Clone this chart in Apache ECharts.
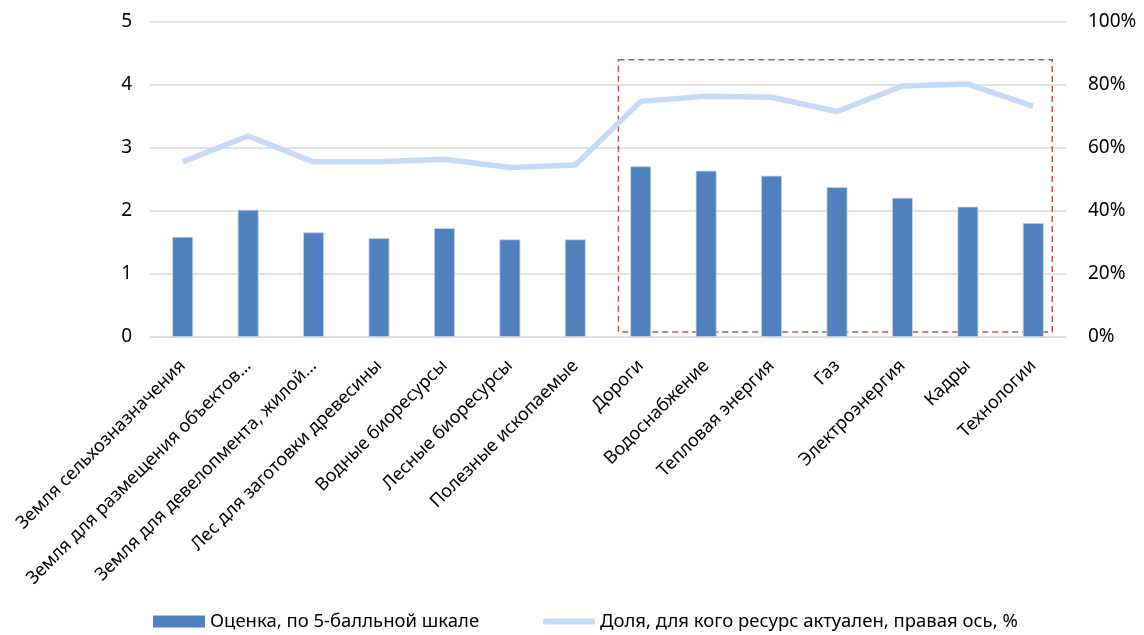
<!DOCTYPE html>
<html><head><meta charset="utf-8">
<script src="https://cdn.jsdelivr.net/npm/echarts@6/dist/echarts.min.js"></script>
<style>html,body{margin:0;padding:0;background:#fff}#c{width:1144px;height:635px}</style>
</head><body><div id="c"></div>
<script>
const categories = ["Земля сельхозназначения","Земля для размещения объектов…","Земля для девелопмента, жилой…","Лес для заготовки древесины","Водные биоресурсы","Лесные биоресурсы","Полезные ископаемые","Дороги","Водоснабжение","Тепловая энергия","Газ","Электроэнергия","Кадры","Технологии"];
const scores = [1.59,2.02,1.66,1.57,1.73,1.55,1.55,2.71,2.64,2.56,2.38,2.21,2.07,1.81];
const shares = [55.6,63.8,55.6,55.6,56.4,53.8,54.6,74.8,76.4,76.1,71.6,79.7,80.3,73.2];
const highlightBox = {xFrom:6.66, xTo:13.29, yFrom:0.08, yTo:4.40};
const S1 = 'Оценка, по 5-балльной шкале';
const S2 = 'Доля, для кого ресурс актуален, правая ось, %';
const FONT = "'Noto Sans', sans-serif";
const chart = echarts.init(document.getElementById('c'));
chart.setOption({
  animation:false,
  textStyle:{fontFamily:FONT},
  grid:{left:150,right:78,top:22,bottom:298},
  legend:[
    {top:607,left:148,itemWidth:52,itemHeight:12,itemGap:8,
      itemStyle:{borderWidth:0},
      textStyle:{fontSize:18.5,color:'#000',fontFamily:FONT},
      data:[{name:S1,icon:'rect'}]},
    {top:607,left:538,itemWidth:52,itemHeight:6,itemGap:8,
      textStyle:{fontSize:18.5,color:'#000',fontFamily:FONT},
      data:[{name:S2,icon:'roundRect'}]}
  ],
  xAxis:[{type:'category',data:categories,
    axisLine:{show:true,lineStyle:{color:'#d9d9d9'}},axisTick:{show:false},
    axisLabel:{rotate:45,interval:0,fontSize:18,color:'#000',margin:26,fontFamily:FONT}},
    {type:'value',min:-0.5,max:13.5,show:false}],
  yAxis:[{type:'value',min:0,max:5,interval:1,
    axisLabel:{fontSize:19,color:'#000',margin:18,fontFamily:FONT},axisTick:{show:false},
    splitLine:{lineStyle:{color:'#d9d9d9',width:1.5}},axisLine:{show:false}},
    {type:'value',min:0,max:100,interval:20,
    axisLabel:{fontSize:19,color:'#000',margin:22,formatter:'{value}%',fontFamily:FONT},axisTick:{show:false},
    splitLine:{show:false},axisLine:{show:false}}],
  series:[
    {name:S1,type:'bar',data:scores,barWidth:'32%',
      itemStyle:{color:'#4f81bd',borderColor:'#c6d6ee',borderWidth:0.8}},
    {name:S2,type:'line',yAxisIndex:1,data:shares,
      symbol:'none',lineStyle:{color:'#c6d9f8',width:5.5},itemStyle:{color:'#c6d9f8'}},
    {name:'box',type:'line',xAxisIndex:1,yAxisIndex:0,data:[],silent:true,
      markArea:{silent:true,itemStyle:{color:'rgba(0,0,0,0)',borderColor:'#c0504d',borderWidth:1.5,borderType:[6,4]},
        data:[[{coord:[highlightBox.xFrom,highlightBox.yTo]},{coord:[highlightBox.xTo,highlightBox.yFrom]}]]}}
  ]
});
</script></body></html>
